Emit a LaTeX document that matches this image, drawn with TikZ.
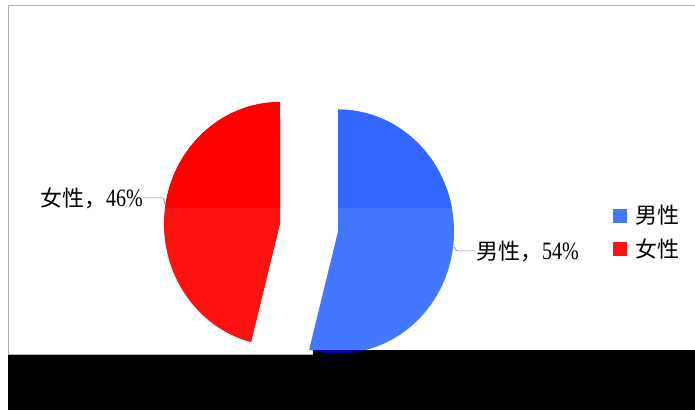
\documentclass[tikz,border=0pt]{standalone}
\usepackage{fontspec}
\usepackage{xcolor}
\newfontfamily\cjk{Noto Sans CJK SC}
\newfontfamily\latin[FakeStretch=0.8]{Liberation Serif}
\definecolor{maleTop}{RGB}{51,102,255}
\definecolor{maleLow}{RGB}{68,119,255}
\definecolor{femaleTop}{RGB}{255,0,0}
\definecolor{femaleLow}{RGB}{255,17,17}
\definecolor{frameGray}{RGB}{175,175,175}
\definecolor{shadeBlue}{RGB}{0,0,165}
\usetikzlibrary{positioning}

\begin{document}
\begin{tikzpicture}[
    x=1pt, y=-1pt,
    every node/.style={inner sep=0pt, font=\fontsize{22}{24}\selectfont},
    leader/.style={draw=gray, line width=0.6pt},
    key/.style={minimum size=14pt, inner sep=0pt}
  ]
  \useasboundingbox (0,0) rectangle (695,410);
  \fill[white] (0,0) rectangle (695,410);
  \draw[frameGray, line width=1pt] (695,5) -- (8,5) -- (8,354) -- (313,354);

  \coordinate (cm) at (338,231.5);
  \coordinate (cf) at (280,224);

  % male wedge, lower shade then upper
  \fill[maleLow] (cm) -- ++(0,-122) arc[start angle=-90, end angle=104.4, x radius=116, y radius=122] -- cycle;
  \begin{scope}
    \clip (0,0) rectangle (695,207);
    \fill[maleTop] (cm) -- ++(0,-122) arc[start angle=-90, end angle=104.4, x radius=116, y radius=122] -- cycle;
  \end{scope}

  % female wedge
  \fill[femaleLow] (cf) -- ++(-28.85,118.17) arc[start angle=104.4, end angle=270, x radius=116, y radius=122] -- cycle;
  \begin{scope}
    \clip (0,0) rectangle (695,207);
    \fill[femaleTop] (cf) -- ++(-28.85,118.17) arc[start angle=104.4, end angle=270, x radius=116, y radius=122] -- cycle;
  \end{scope}

  % labels
  \node[anchor=base east] (flabel) at (143,206) {{\cjk 女性，}{\latin\fontsize{25}{26}\selectfont 46\%}};
  \node[anchor=base west] (mlabel) at (476,259) {{\cjk 男性，}{\latin\fontsize{25}{26}\selectfont 54\%}};
  \coordinate (fedge) at (166,207);
  \coordinate (fbend) at (163,0);
  \coordinate (medge) at (454,247);
  \coordinate (mbend) at (457,0);
  \draw[leader] (flabel.east) -- (flabel.east -| fbend) -- (fedge);
  \draw[leader] (medge) -- (mlabel.west -| mbend) -- (mlabel.west);

  % legend
  \node[key, fill=maleLow] (mkey) at (620,215.5) {};
  \node[key, fill=femaleLow, below=19pt of mkey] (fkey) {};
  \node[right=8pt of mkey] (mtext) {\cjk 男性};
  \node[right=8pt of fkey] (ftext) {\cjk 女性};

  % black bar
  \fill[black] (8,355) rectangle (695,410);
  \fill[black] (313,350) rectangle (695,355);
  \begin{scope}
    \clip (313,350) rectangle (695,355);
    \fill[shadeBlue] (cm) ellipse[x radius=116, y radius=122];
  \end{scope}
\end{tikzpicture}
\end{document}
